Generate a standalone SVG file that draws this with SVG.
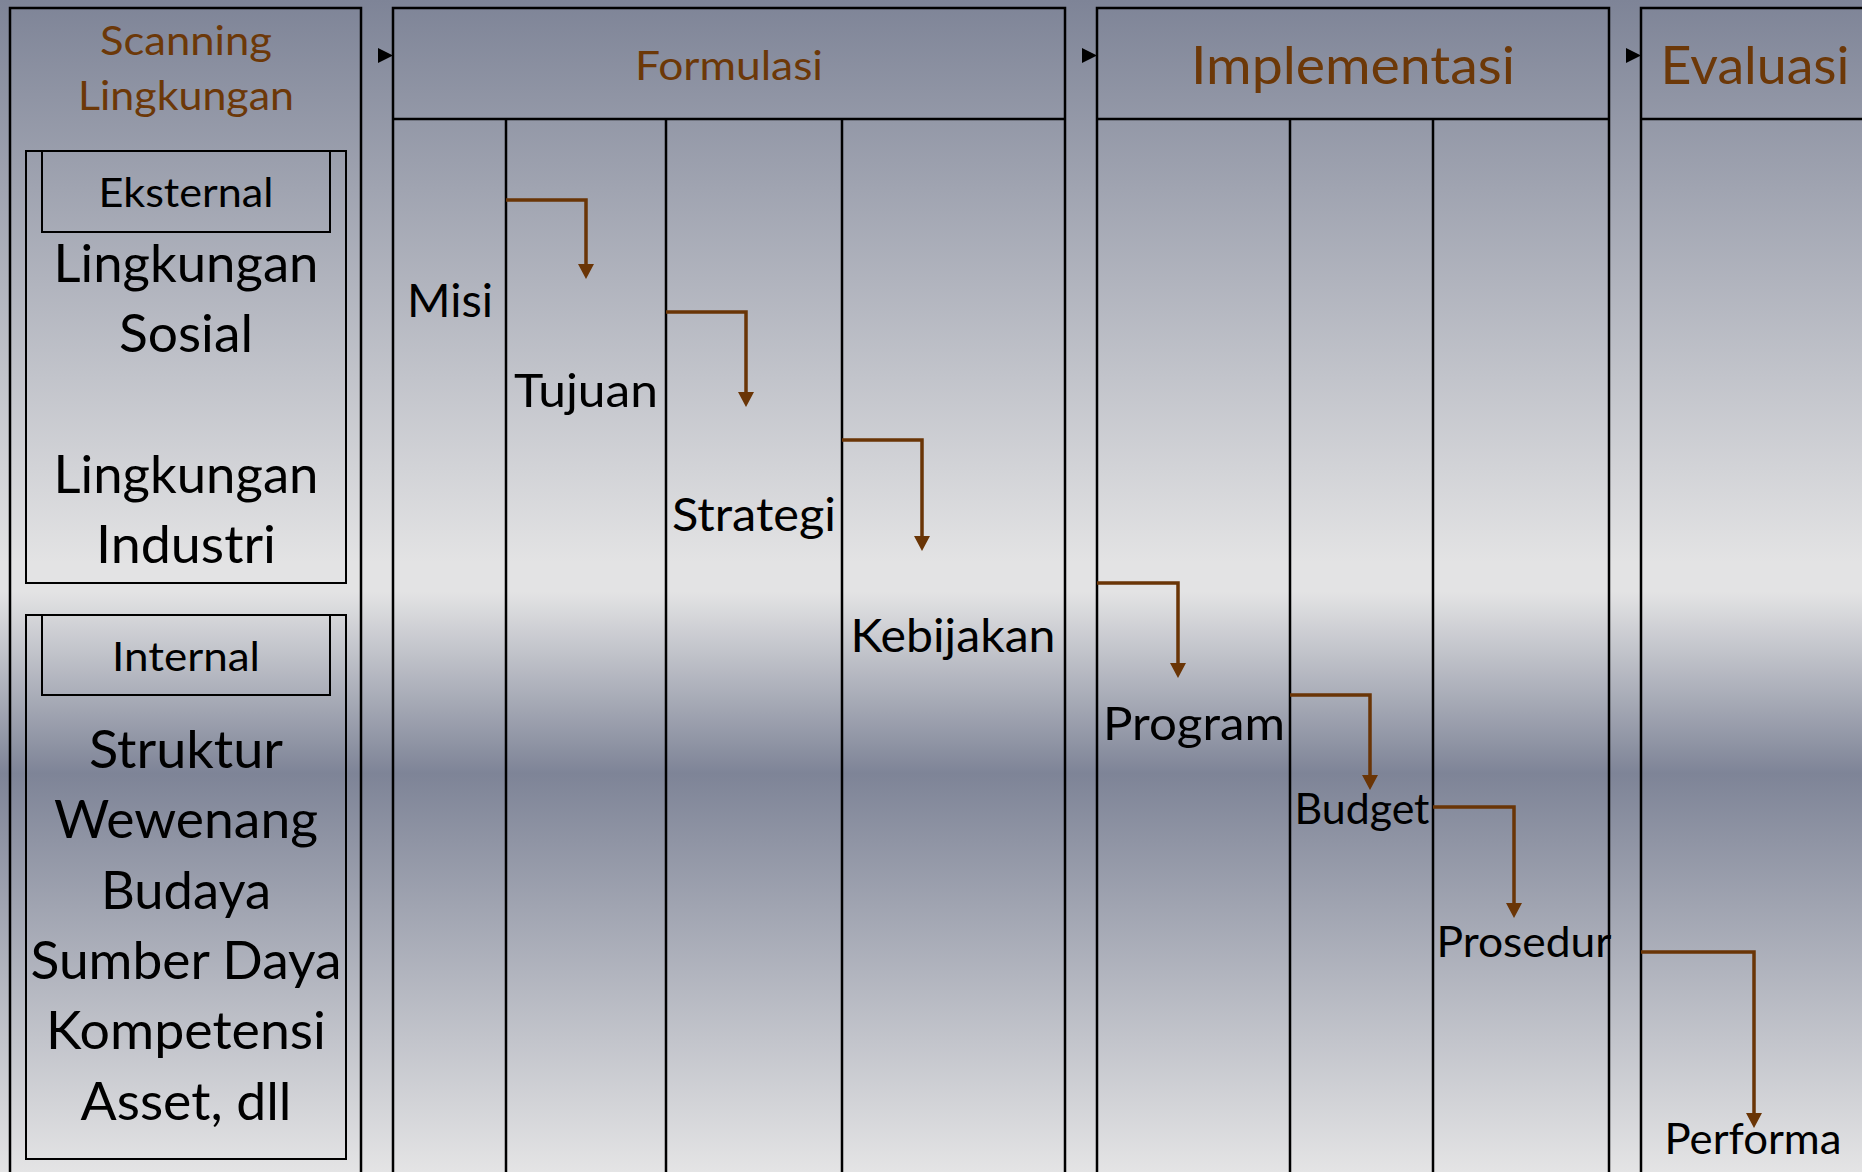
<svg xmlns="http://www.w3.org/2000/svg" width="1862" height="1172" viewBox="0 0 1862 1172">
  <defs>
    <linearGradient id="bg" gradientUnits="userSpaceOnUse" x1="0" y1="0" x2="0" y2="1172">
      <stop offset="0" stop-color="#7e8497"/>
      <stop offset="0.48" stop-color="#e3e3e4"/>
      <stop offset="0.505" stop-color="#e3e3e4"/>
      <stop offset="0.66" stop-color="#7e8497"/>
      <stop offset="1" stop-color="#e4e4e5"/>
    </linearGradient>
    <marker id="arr" markerUnits="userSpaceOnUse" markerWidth="16" markerHeight="16" viewBox="0 0 15 16" refX="5" refY="8" orient="auto">
      <path d="M0,0 L15,8 L0,16 z" fill="#6a3506"/>
    </marker>
    <style>
      .box { fill: none; stroke: #000; stroke-width: 2.5; }
      .thin { fill: none; stroke: #000; stroke-width: 2; }
      .lane { stroke: #000; stroke-width: 2.5; }
      .t { font-family: Lato, "Liberation Sans", sans-serif; text-anchor: middle; fill: #000; }
      .brown { fill: #6c3808; }
      .h1 { font-size: 41px; }
      .h2 { font-size: 52px; }
      .big { font-size: 52px; }
      .lbl { font-size: 47px; }
      .sm { font-size: 43px; }
      .con { fill: none; stroke: #6a3506; stroke-width: 3.5; marker-end: url(#arr); }
      .tri { fill: #000; }
    </style>
  </defs>

  <rect x="0" y="0" width="1862" height="1172" fill="url(#bg)"/>

  <g id="scanning">
    <rect class="box" x="10" y="8" width="351" height="1180"/>
    <text class="t brown h1" x="186" y="55" textLength="172" lengthAdjust="spacingAndGlyphs">Scanning</text>
    <text class="t brown h1" x="186" y="110" textLength="216" lengthAdjust="spacingAndGlyphs">Lingkungan</text>
  </g>

  <g id="eksternal">
    <rect class="thin" x="26" y="151" width="320" height="432"/>
    <rect class="thin" x="42" y="151" width="288" height="81"/>
    <text class="t h1" x="186" y="207" textLength="175" lengthAdjust="spacingAndGlyphs">Eksternal</text>
    <text class="t big" x="186" y="282" textLength="265" lengthAdjust="spacingAndGlyphs">Lingkungan</text>
    <text class="t big" x="186" y="352" textLength="134" lengthAdjust="spacingAndGlyphs">Sosial</text>
    <text class="t big" x="186" y="493" textLength="265" lengthAdjust="spacingAndGlyphs">Lingkungan</text>
    <text class="t big" x="186" y="563" textLength="180" lengthAdjust="spacingAndGlyphs">Industri</text>
  </g>

  <g id="internal">
    <rect class="thin" x="26" y="615" width="320" height="544"/>
    <rect class="thin" x="42" y="615" width="288" height="80"/>
    <text class="t h1" x="186" y="671" textLength="148" lengthAdjust="spacingAndGlyphs">Internal</text>
    <text class="t big" x="186" y="768" textLength="194" lengthAdjust="spacingAndGlyphs">Struktur</text>
    <text class="t big" x="186" y="838" textLength="264" lengthAdjust="spacingAndGlyphs">Wewenang</text>
    <text class="t big" x="186" y="909" textLength="170" lengthAdjust="spacingAndGlyphs">Budaya</text>
    <text class="t big" x="186" y="979" textLength="311" lengthAdjust="spacingAndGlyphs">Sumber Daya</text>
    <text class="t big" x="186" y="1049" textLength="280" lengthAdjust="spacingAndGlyphs">Kompetensi</text>
    <text class="t big" x="186" y="1120" textLength="211" lengthAdjust="spacingAndGlyphs">Asset, dll</text>
  </g>

  <g id="formulasi">
    <polygon class="tri" points="378,48 393,55.5 378,63"/>
    <rect class="box" x="393" y="8" width="672" height="1180"/>
    <line class="lane" x1="393" y1="119" x2="1065" y2="119"/>
    <line class="lane" x1="506" y1="119" x2="506" y2="1180"/>
    <line class="lane" x1="666" y1="119" x2="666" y2="1180"/>
    <line class="lane" x1="842" y1="119" x2="842" y2="1180"/>
    <text class="t brown h1" x="729" y="80" textLength="188" lengthAdjust="spacingAndGlyphs">Formulasi</text>
  </g>

  <g id="implementasi">
    <polygon class="tri" points="1082,48 1097,55.5 1082,63"/>
    <rect class="box" x="1097" y="8" width="512" height="1180"/>
    <line class="lane" x1="1097" y1="119" x2="1609" y2="119"/>
    <line class="lane" x1="1290" y1="119" x2="1290" y2="1180"/>
    <line class="lane" x1="1433" y1="119" x2="1433" y2="1180"/>
    <text class="t brown h2" x="1353" y="84" textLength="324" lengthAdjust="spacingAndGlyphs">Implementasi</text>
  </g>

  <g id="evaluasi">
    <polygon class="tri" points="1626,48 1641,55.5 1626,63"/>
    <rect class="box" x="1641" y="8" width="260" height="1180"/>
    <line class="lane" x1="1641" y1="119" x2="1862" y2="119"/>
    <text class="t brown h2" x="1755" y="84" textLength="189" lengthAdjust="spacingAndGlyphs">Evaluasi</text>
  </g>

  <g id="misi"><text class="t lbl" x="450" y="317" textLength="86" lengthAdjust="spacingAndGlyphs">Misi</text></g>
  <g id="tujuan"><text class="t lbl" x="586" y="407" textLength="144" lengthAdjust="spacingAndGlyphs">Tujuan</text></g>
  <g id="strategi"><text class="t lbl" x="754" y="531" textLength="164" lengthAdjust="spacingAndGlyphs">Strategi</text></g>
  <g id="kebijakan"><text class="t lbl" x="953" y="652" textLength="205" lengthAdjust="spacingAndGlyphs">Kebijakan</text></g>
  <g id="program"><text class="t lbl" x="1194" y="740" textLength="182" lengthAdjust="spacingAndGlyphs">Program</text></g>
  <g id="budget"><text class="t sm" x="1362" y="824" textLength="135" lengthAdjust="spacingAndGlyphs">Budget</text></g>
  <g id="prosedur"><text class="t sm" x="1524" y="957" textLength="175" lengthAdjust="spacingAndGlyphs">Prosedur</text></g>
  <g id="performa"><text class="t sm" x="1753" y="1154" textLength="177" lengthAdjust="spacingAndGlyphs">Performa</text></g>

  <g id="connectors">
    <path class="con" d="M506,200 H586 V269"/>
    <path class="con" d="M666,312 H746 V397"/>
    <path class="con" d="M842,440 H922 V541"/>
    <path class="con" d="M1097,583 H1178 V668"/>
    <path class="con" d="M1290,695 H1370 V780"/>
    <path class="con" d="M1433,807 H1514 V908"/>
    <path class="con" d="M1641,952 H1754 V1118"/>
  </g>
</svg>
